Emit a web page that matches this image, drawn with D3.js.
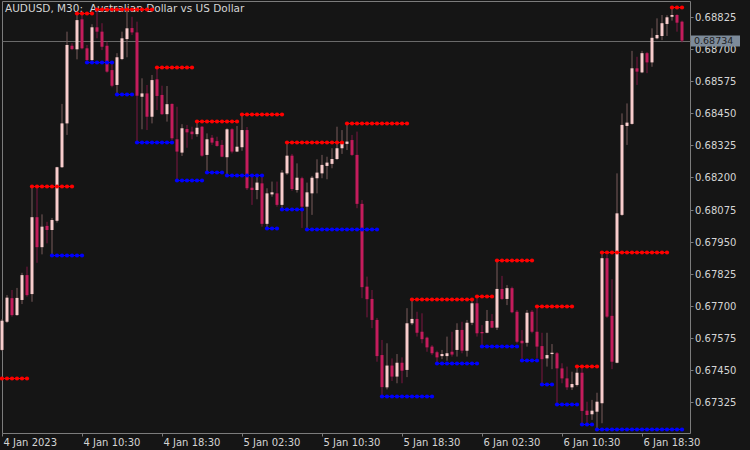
<!DOCTYPE html>
<html><head><meta charset="utf-8">
<script src="https://cdn.jsdelivr.net/npm/d3@7"></script>
<style>html,body{margin:0;padding:0;background:#151515;overflow:hidden}text{white-space:pre}</style>
</head><body><svg id="c" width="750" height="450"></svg>
<script>
const opens = [0.67527,0.67637,0.67729,0.67663,0.67722,0.67819,0.67745,0.68045,0.67928,0.68011,0.67995,0.68031,0.68240,0.68411,0.68714,0.68700,0.68817,0.68704,0.68658,0.68786,
0.68769,0.68714,0.68619,0.68561,0.68662,0.68740,0.68783,0.68766,0.68515,0.68528,0.68437,0.68583,0.68522,0.68447,0.68487,0.68349,0.68297,0.68389,0.68379,0.68369,
0.68398,0.68288,0.68355,0.68342,0.68327,0.68279,0.68388,0.68301,0.68318,0.68385,0.68160,0.68151,0.68177,0.68019,0.68134,0.68138,0.68093,0.68216,0.68285,0.68151,
0.68197,0.68086,0.68138,0.68197,0.68216,0.68245,0.68253,0.68272,0.68314,0.68331,0.68346,0.68288,0.68097,0.67774,0.67726,0.67644,0.67507,0.67381,0.67466,0.67423,
0.67477,0.67449,0.67631,0.67648,0.67598,0.67575,0.67540,0.67518,0.67503,0.67503,0.67520,0.67527,0.67605,0.67524,0.67633,0.67709,0.67597,0.67594,0.67640,0.67614,
0.67765,0.67726,0.67768,0.67676,0.67563,0.67555,0.67676,0.67598,0.67542,0.67494,0.67511,0.67514,0.67455,0.67416,0.67381,0.67390,0.67438,0.67290,0.67276,0.67286,
0.67319,0.67885,0.67660,0.67477,0.68054,0.68401,0.68409,0.68626,0.68610,0.68685,0.68649,0.68743,0.68752,0.68799,0.68827,0.68834,0.68808];
const highs = [0.67648,0.67741,0.67761,0.67769,0.67828,0.67852,0.68168,0.68159,0.68056,0.68027,0.68042,0.68242,0.68487,0.68769,0.68724,0.68842,0.68841,0.68717,0.68798,0.68856,
0.68802,0.68730,0.68652,0.68685,0.68769,0.68854,0.68827,0.68808,0.68587,0.68561,0.68600,0.68632,0.68558,0.68557,0.68489,0.68476,0.68408,0.68405,0.68398,0.68420,
0.68401,0.68372,0.68366,0.68359,0.68346,0.68392,0.68392,0.68401,0.68449,0.68397,0.68203,0.68203,0.68203,0.68158,0.68184,0.68184,0.68229,0.68338,0.68292,0.68255,
0.68203,0.68180,0.68206,0.68271,0.68288,0.68281,0.68314,0.68398,0.68385,0.68414,0.68366,0.68379,0.68112,0.67813,0.67761,0.67652,0.67566,0.67553,0.67494,0.67511,
0.67498,0.67690,0.67725,0.67676,0.67670,0.67579,0.67546,0.67524,0.67527,0.67579,0.67598,0.67631,0.67637,0.67644,0.67725,0.67739,0.67624,0.67683,0.67667,0.67878,
0.67816,0.67780,0.67774,0.67683,0.67605,0.67683,0.67683,0.67698,0.67594,0.67594,0.67550,0.67519,0.67475,0.67462,0.67442,0.67466,0.67462,0.67325,0.67332,0.67360,
0.67908,0.67898,0.67803,0.68216,0.68450,0.68489,0.68694,0.68671,0.68694,0.68690,0.68782,0.68821,0.68834,0.68833,0.68864,0.68837,0.68812];
const lows = [0.67523,0.67632,0.67657,0.67660,0.67706,0.67735,0.67715,0.67867,0.67900,0.67943,0.67899,0.68024,0.68237,0.68366,0.68697,0.68661,0.68700,0.68651,0.68652,0.68743,
0.68697,0.68609,0.68552,0.68525,0.68658,0.68669,0.68756,0.68340,0.68388,0.68385,0.68411,0.68463,0.68444,0.68418,0.68346,0.68190,0.68284,0.68316,0.68349,0.68359,
0.68281,0.68223,0.68327,0.68320,0.68279,0.68210,0.68294,0.68299,0.68304,0.68151,0.68093,0.68115,0.68008,0.68003,0.68125,0.68086,0.68078,0.68210,0.68148,0.68141,
0.68003,0.67998,0.68054,0.68138,0.68197,0.68193,0.68236,0.68268,0.68292,0.68307,0.68284,0.68080,0.67729,0.67654,0.67612,0.67481,0.67347,0.67373,0.67406,0.67397,
0.67397,0.67421,0.67624,0.67579,0.67553,0.67520,0.67507,0.67475,0.67491,0.67485,0.67501,0.67501,0.67514,0.67501,0.67624,0.67579,0.67542,0.67592,0.67612,0.67605,
0.67722,0.67702,0.67670,0.67553,0.67488,0.67540,0.67592,0.67494,0.67393,0.67462,0.67452,0.67316,0.67397,0.67371,0.67371,0.67384,0.67237,0.67241,0.67254,0.67217,
0.67241,0.67652,0.67452,0.67475,0.68050,0.68327,0.68406,0.68561,0.68607,0.68607,0.68632,0.68739,0.68736,0.68752,0.68812,0.68769,0.68727];
const closes = [0.67641,0.67731,0.67663,0.67730,0.67819,0.67741,0.68045,0.67928,0.68008,0.67995,0.68034,0.68240,0.68411,0.68717,0.68701,0.68814,0.68704,0.68658,0.68786,0.68769,
0.68710,0.68613,0.68558,0.68669,0.68743,0.68782,0.68766,0.68519,0.68528,0.68437,0.68580,0.68518,0.68447,0.68486,0.68353,0.68301,0.68392,0.68376,0.68369,0.68394,
0.68285,0.68349,0.68336,0.68323,0.68281,0.68388,0.68301,0.68320,0.68385,0.68158,0.68151,0.68180,0.68019,0.68138,0.68142,0.68093,0.68219,0.68285,0.68155,0.68199,
0.68086,0.68142,0.68199,0.68219,0.68249,0.68258,0.68272,0.68314,0.68333,0.68340,0.68288,0.68097,0.67772,0.67725,0.67644,0.67503,0.67382,0.67466,0.67423,0.67477,
0.67446,0.67631,0.67648,0.67594,0.67569,0.67537,0.67514,0.67498,0.67511,0.67514,0.67509,0.67605,0.67524,0.67633,0.67709,0.67592,0.67592,0.67640,0.67614,0.67765,
0.67726,0.67768,0.67674,0.67559,0.67553,0.67672,0.67598,0.67540,0.67491,0.67507,0.67516,0.67455,0.67416,0.67381,0.67394,0.67438,0.67289,0.67273,0.67290,0.67325,
0.67885,0.67657,0.67481,0.68060,0.68405,0.68414,0.68626,0.68613,0.68685,0.68649,0.68745,0.68756,0.68802,0.68825,0.68834,0.68804,0.68734];

// resistance / support levels: [first bar, last bar, price]
const resistance = [[0,5,0.67419],[6,14,0.68168],[15,18,0.68842],[19,30,0.68856],[31,38,0.68632],[39,47,0.68420],[48,56,0.68449],[57,68,0.68338],
[69,81,0.68414],[82,94,0.67725],[95,98,0.67739],[99,106,0.67878],[107,114,0.67698],[115,119,0.67466],[120,133,0.67908],[134,136,0.68864]];
const support = [[10,16,0.67899],[17,22,0.68651],[23,26,0.68525],[27,34,0.68340],[35,40,0.68190],[41,44,0.68223],[45,52,0.68210],[53,55,0.68003],
[56,60,0.68078],[61,75,0.67998],[76,86,0.67347],[87,95,0.67475],[96,103,0.67542],[104,107,0.67488],[108,110,0.67393],[111,115,0.67316],[116,118,0.67237],[119,136,0.67217]];

const timeTickIndex = [0,16,32,48,64,80,96,112,128];
const timeTickLabels = ["4 Jan 2023","4 Jan 10:30","4 Jan 18:30","5 Jan 02:30","5 Jan 10:30","5 Jan 18:30","6 Jan 02:30","6 Jan 10:30","6 Jan 18:30"];
const priceTicks = [0.68825,0.68700,0.68575,0.68450,0.68325,0.68200,0.68075,0.67950,0.67825,0.67700,0.67575,0.67450,0.67325];
const lastPrice = 0.68734;
const title = "AUDUSD, M30:  Australian Dollar vs US Dollar";

const W = 750, H = 450, plotRight = 690.5, plotBottom = 433.5;
const svg = d3.select("#c");
svg.append("rect").attr("width", W).attr("height", H).attr("fill", "#151515");

const x = d3.scaleLinear().domain([0, 136]).range([2, 682]);
const y = d3.scaleLinear().domain([0.67325, 0.68825]).range([401.7, 17.3]);

const font = "DejaVu Sans, sans-serif";
const textCol = "#d4d4d4";

// title (beneath marks)
svg.append("text").attr("x", 5).attr("y", 12).attr("fill", textCol)
  .attr("font-family", font).attr("font-size", 10.5).text(title);

// frame
const frame = svg.append("g").attr("stroke", "#7c7c7c").attr("stroke-width", 1).attr("fill", "none");
frame.append("path").attr("d", `M2.5,${plotBottom}V1.5H${plotRight}V${plotBottom}H2.5`);

// last price line
svg.append("line").attr("x1", 2.5).attr("x2", plotRight).attr("y1", Math.round(y(lastPrice)) + 0.5).attr("y2", Math.round(y(lastPrice)) + 0.5)
  .attr("stroke", "#6a6a6a").attr("stroke-width", 1);

// candles
const n = opens.length;
const idx = d3.range(n);
const g = svg.append("g");
const bullBody = "#f8cccc", bearBody = "#c41c5c", bullWick = "#7a5c5c", bearWick = "#7e1642";
g.selectAll("rect.w").data(idx).join("rect").attr("class", "w")
  .attr("x", i => Math.round(x(i)) - 0.5).attr("width", 1)
  .attr("y", i => y(highs[i])).attr("height", i => Math.max(1, y(lows[i]) - y(highs[i])))
  .attr("fill", i => closes[i] >= opens[i] ? bullWick : bearWick);
g.selectAll("rect.b").data(idx).join("rect").attr("class", "b")
  .attr("x", i => Math.round(x(i)) - 1.5).attr("width", 3)
  .attr("y", i => y(Math.max(opens[i], closes[i])))
  .attr("height", i => Math.max(1, Math.abs(y(opens[i]) - y(closes[i]))))
  .attr("fill", i => closes[i] >= opens[i] ? bullBody : bearBody);

// level dots
function drawLevels(levels, color) {
  const lg = svg.append("g");
  levels.forEach(([a, b, v]) => {
    const yy = Math.round(y(v)) + 0.5;
    lg.append("line").attr("x1", x(a)).attr("x2", x(b)).attr("y1", yy).attr("y2", yy)
      .attr("stroke", color).attr("stroke-width", 1);
    lg.selectAll(null).data(d3.range(a, b + 1)).join("circle")
      .attr("cx", i => Math.round(x(i))).attr("cy", yy).attr("r", 2.1).attr("fill", color);
  });
}
drawLevels(resistance, "#ff0000");
drawLevels(support, "#0000ff");

// price axis
const ax = svg.append("g");
priceTicks.forEach(p => {
  const yy = Math.round(y(p)) + 0.5;
  ax.append("line").attr("x1", plotRight).attr("x2", plotRight + 3).attr("y1", yy).attr("y2", yy).attr("stroke", "#7c7c7c");
  ax.append("text").attr("x", 695).attr("y", yy + 3.5).attr("fill", textCol)
    .attr("font-family", font).attr("font-size", 10).text(p.toFixed(5));
});
// last price tag
const ly = Math.round(y(lastPrice));
ax.append("rect").attr("x", 691).attr("y", ly - 5.5).attr("width", 49).attr("height", 11).attr("fill", "#7d8b9a");
ax.append("text").attr("x", 694).attr("y", ly + 3.3).attr("fill", "#1e1e1e")
  .attr("font-family", font).attr("font-size", 9.5).text(lastPrice.toFixed(5));

// time axis
timeTickIndex.forEach((ti, k) => {
  const xx = Math.round(x(ti)) + 0.5;
  ax.append("line").attr("x1", xx).attr("x2", xx).attr("y1", plotBottom).attr("y2", plotBottom + 3).attr("stroke", "#7c7c7c");
  ax.append("text").attr("x", xx + 1).attr("y", 445.5).attr("fill", textCol)
    .attr("font-family", font).attr("font-size", 10).text(timeTickLabels[k]);
});
</script></body></html>
